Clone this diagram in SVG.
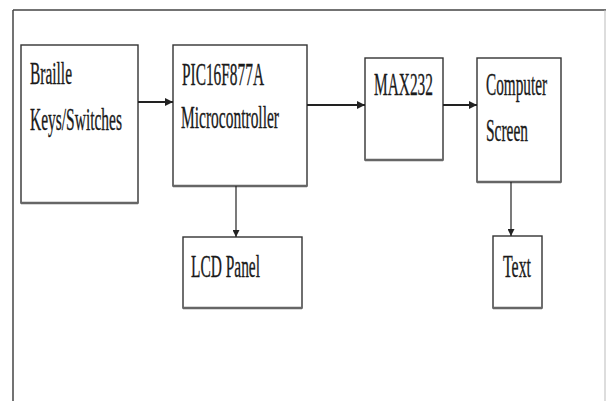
<svg xmlns="http://www.w3.org/2000/svg" width="606" height="401" viewBox="0 0 606 401">
<defs>
<style>
.box{fill:#fff;stroke:#333;stroke-width:1.4}
.shadow{stroke:#666;stroke-width:2.5}
.lbl{font-family:"Liberation Serif","Times New Roman",serif;font-size:31px;fill:#1a1a1a;stroke:#1a1a1a;stroke-width:0.35}
.con{stroke:#222;fill:none}
</style>
<marker id="ah" viewBox="0 0 10 10" refX="10" refY="5" markerWidth="7" markerHeight="7" markerUnits="userSpaceOnUse" orient="auto">
<path d="M0,0 L10,5 L0,10 z" fill="#222"/>
</marker>
<marker id="ah2" viewBox="0 0 10 10" refX="10" refY="5" markerWidth="8" markerHeight="8" markerUnits="userSpaceOnUse" orient="auto">
<path d="M0,0 L10,5 L0,10 z" fill="#222"/>
</marker>
</defs>
<rect width="606" height="401" fill="#fff"/>
<g id="frame">
<line x1="13" y1="10" x2="606" y2="10" stroke="#444" stroke-width="1.5"/>
<line x1="13" y1="10" x2="13" y2="401" stroke="#444" stroke-width="1.5"/>
<line x1="605" y1="10" x2="605" y2="401" stroke="#bbb" stroke-width="1"/>
</g>
<g id="braille">
<rect class="box" x="21" y="45" width="117" height="158"/>
<line class="shadow" x1="21" y1="203" x2="138" y2="203"/>
<text class="lbl" x="30" y="84" textLength="42" lengthAdjust="spacingAndGlyphs">Braille</text>
<text class="lbl" x="30" y="130" textLength="92" lengthAdjust="spacingAndGlyphs">Keys/Switches</text>
</g>
<g id="pic">
<rect class="box" x="173" y="45" width="134" height="141"/>
<line class="shadow" x1="173" y1="186" x2="307" y2="186"/>
<text class="lbl" x="182" y="85" textLength="82" lengthAdjust="spacingAndGlyphs">PIC16F877A</text>
<text class="lbl" x="181" y="128" textLength="98" lengthAdjust="spacingAndGlyphs">Microcontroller</text>
</g>
<g id="max232">
<rect class="box" x="365" y="58" width="78" height="102"/>
<line class="shadow" x1="365" y1="160" x2="443" y2="160"/>
<text class="lbl" x="374" y="95" textLength="59" lengthAdjust="spacingAndGlyphs">MAX232</text>
</g>
<g id="computer">
<rect class="box" x="477" y="58" width="84" height="124"/>
<line class="shadow" x1="477" y1="182" x2="561" y2="182"/>
<text class="lbl" x="486" y="95" textLength="61" lengthAdjust="spacingAndGlyphs">Computer</text>
<text class="lbl" x="486" y="141" textLength="42" lengthAdjust="spacingAndGlyphs">Screen</text>
</g>
<g id="lcd">
<rect class="box" x="183" y="237" width="119" height="71"/>
<line class="shadow" x1="183" y1="308" x2="302" y2="308"/>
<text class="lbl" x="191" y="277" textLength="69" lengthAdjust="spacingAndGlyphs">LCD Panel</text>
</g>
<g id="text">
<rect class="box" x="493" y="236" width="49" height="72"/>
<line class="shadow" x1="493" y1="308" x2="542" y2="308"/>
<text class="lbl" x="503" y="277" textLength="28" lengthAdjust="spacingAndGlyphs">Text</text>
</g>
<g id="connectors">
<line class="con" x1="138" y1="102" x2="173" y2="102" stroke-width="2" marker-end="url(#ah2)"/>
<line class="con" x1="307" y1="105" x2="365" y2="105" stroke-width="2" marker-end="url(#ah2)"/>
<line class="con" x1="443" y1="105" x2="477" y2="105" stroke-width="2" marker-end="url(#ah2)"/>
<line class="con" x1="236" y1="186" x2="236" y2="237" stroke-width="1.2" marker-end="url(#ah)"/>
<line class="con" x1="511" y1="182" x2="511" y2="236" stroke-width="1.2" marker-end="url(#ah)"/>
</g>
</svg>
